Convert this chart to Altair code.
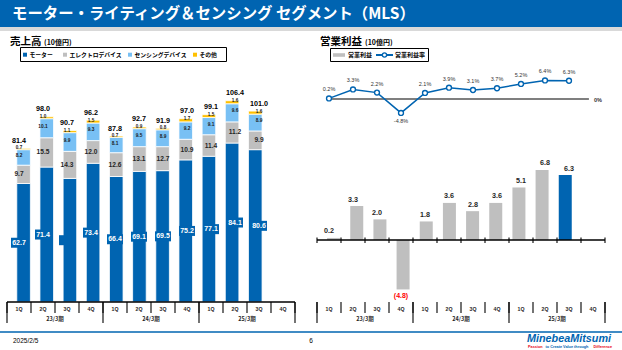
import altair as alt
import pandas as pd

# ---------------- data ----------------
periods = ["23/3期", "24/3期", "25/3期"]
quarters = ["1Q", "2Q", "3Q", "4Q"] * 3
seg_names = ["モーター", "エレクトロデバイス", "センシングデバイス", "その他"]
motor = [62.7, 71.4, 65.4, 73.4, 66.4, 69.1, 69.5, 75.2, 77.1, 84.1, 80.6]
motor_labels = ["62.7", "71.4", "", "73.4", "66.4", "69.1", "69.5", "75.2", "77.1", "84.1", "80.6"]
electro = [9.7, 15.5, 14.3, 12.0, 12.6, 13.1, 12.7, 10.9, 11.4, 11.2, 9.9]
sensing = [8.2, 10.1, 9.9, 9.3, 8.1, 9.5, 8.9, 9.2, 9.1, 9.6, 8.9]
other = [0.7, 1.0, 1.1, 1.5, 0.7, 0.9, 0.8, 1.7, 1.5, 1.6, 1.6]
totals = [81.4, 98.0, 90.7, 96.2, 87.8, 92.7, 91.9, 97.0, 99.1, 106.4, 101.0]
op_income = [0.2, 3.3, 2.0, -4.8, 1.8, 3.6, 2.8, 3.6, 5.1, 6.8, 6.3]
op_margin = [0.2, 3.3, 2.2, -4.8, 2.1, 3.9, 3.1, 3.7, 5.2, 6.4, 6.3]

title_text = "モーター・ライティング＆センシング セグメント（MLS）"
left_head = "売上高"
right_head = "営業利益"
unit_text = "(10億円)"
right_legend = ["営業利益", "営業利益率"]
footer_date = "2025/2/5"
footer_page = "6"

# ---------------- styles ----------------
BLUE = "#0064B1"
GRAY = "#BFBFBF"
LBLUE = "#78C0F4"
YELLOW = "#FFC000"
seg_colors = [BLUE, GRAY, LBLUE, YELLOW]
JP = "Noto Sans CJK JP"
NUM = "Liberation Sans"

one = pd.DataFrame({"d": [0]})
n = len(totals)
ncat = len(quarters)


def LX():
    return alt.Scale(domain=[-0.5, ncat - 0.5], range=[7, 295], nice=False, zero=False)


def RX():
    return alt.Scale(domain=[-0.5, ncat - 0.5], range=[317, 605], nice=False, zero=False)


def LY():
    return alt.Scale(domain=[0, 100], range=[302, 113], nice=False, zero=False)


def RYL():
    return alt.Scale(domain=[0, 10], range=[99, 70], nice=False, zero=False)


def RYB():
    return alt.Scale(domain=[0, 10], range=[240, 137], nice=False, zero=False)


def txt(s, x, y, size, color="black", weight="normal", font=JP, align="left", style="normal"):
    return alt.Chart(one).mark_text(
        text=s, align=align, baseline="middle", fontSize=size, font=font,
        fontWeight=weight, color=color, fontStyle=style
    ).encode(x=alt.value(x), y=alt.value(y))


def box(x, x2, y, y2, fill, stroke=None, sw=1.0):
    kw = dict(fill=fill)
    if stroke:
        kw.update(stroke=stroke, strokeWidth=sw)
    else:
        kw.update(strokeWidth=0)
    return alt.Chart(one).mark_rect(**kw).encode(
        x=alt.value(x), x2=alt.value(x2), y=alt.value(y), y2=alt.value(y2))


layers = []

# ---------------- banner ----------------
layers.append(box(0, 622, 0, 27, BLUE))
layers.append(box(0, 622, 27, 31, "#D9D9D9"))
layers.append(txt(title_text, 12, 14, 15.4, color="white", weight="bold"))

# ---------------- headings ----------------
layers.append(txt(left_head, 10, 42, 10.5, weight="bold"))
layers.append(txt(unit_text, 44, 43, 7, weight="bold"))
layers.append(txt(right_head, 320, 42, 10.5, weight="bold"))
layers.append(txt(unit_text, 365, 43, 7, weight="bold"))

# ---------------- left legend ----------------
layers.append(box(20.5, 226.5, 47.5, 61.5, "white", "black", 1))
leg_sym_x = [25, 65, 130, 195]
for name, col, sx in zip(seg_names, seg_colors, leg_sym_x):
    layers.append(box(sx - 2, sx + 2, 52.7, 56.7, col))
    layers.append(txt(name, sx + 4.5, 54.8, 5.8, weight="bold"))

# ---------------- right legend ----------------
layers.append(box(330.5, 428.5, 48.5, 61.5, "white", "black", 1))
layers.append(box(333, 345, 53.2, 56.8, GRAY))
layers.append(txt(right_legend[0], 348, 55, 6, weight="bold"))
layers.append(alt.Chart(one).mark_rule(color=BLUE, strokeWidth=2).encode(
    x=alt.value(376), x2=alt.value(393), y=alt.value(55)))
layers.append(alt.Chart(one).mark_point(filled=True, fill="white", stroke=BLUE, strokeWidth=1.3,
                                        size=18, opacity=1).encode(x=alt.value(384.5), y=alt.value(55)))
layers.append(txt(right_legend[1], 395, 55, 6, weight="bold"))

# ---------------- left stacked bars ----------------
rows = []
for i in range(n):
    b = 0.0
    for seg, vals in zip(seg_names, [motor, electro, sensing, other]):
        v = vals[i]
        rows.append(dict(i=i, seg=seg, start=b, end=b + v, mid=b + v / 2, lab=f"{v:.1f}"))
        b += v
stack = pd.DataFrame(rows)
tops = pd.DataFrame({"i": list(range(n)), "top": [stack[stack.i == i].end.max() for i in range(n)],
                     "lab": [f"{t:.1f}" for t in totals]})

layers.append(alt.Chart(stack).mark_bar(width=13.6, stroke="white", strokeWidth=0.8).encode(
    x=alt.X("i:Q", scale=LX(), axis=None),
    y=alt.Y("start:Q", scale=LY(), axis=None),
    y2="end:Q",
    color=alt.Color("seg:N", scale=alt.Scale(domain=seg_names, range=seg_colors), legend=None),
))

mdf = stack[stack.seg == seg_names[0]].copy()
mdf["lab"] = motor_labels
layers.append(alt.Chart(mdf).mark_point(
    shape="M-1,-0.625L1,-0.625L1,0.625L-1,0.625Z", filled=True, size=256, color=BLUE, opacity=1
).encode(x=alt.X("i:Q", scale=LX(), axis=None), y=alt.Y("mid:Q", scale=LY(), axis=None)))
layers.append(alt.Chart(mdf).mark_text(color="white", fontWeight="bold", fontSize=7, font=NUM,
                                       baseline="middle").encode(
    x=alt.X("i:Q", scale=LX(), axis=None), y=alt.Y("mid:Q", scale=LY(), axis=None), text="lab:N"))

seg_text_style = {
    seg_names[1]: dict(fontSize=6.6, color="#262626", dy=0),
    seg_names[2]: dict(fontSize=4.8, color="#1a1a1a", dy=-1.5),
    seg_names[3]: dict(fontSize=4.6, color="#1a1a1a", dy=-1),
}
for seg, st in seg_text_style.items():
    layers.append(alt.Chart(stack[stack.seg == seg]).mark_text(
        fontWeight="bold", font=NUM, baseline="middle", **st).encode(
        x=alt.X("i:Q", scale=LX(), axis=None), y=alt.Y("mid:Q", scale=LY(), axis=None), text="lab:N"))

layers.append(alt.Chart(tops).mark_text(fontWeight="bold", font=NUM, fontSize=7.2, color="black",
                                        baseline="middle", dy=-7.5).encode(
    x=alt.X("i:Q", scale=LX(), axis=None), y=alt.Y("top:Q", scale=LY(), axis=None), text="lab:N"))

# left baseline
layers.append(alt.Chart(one).mark_rule(color="black", strokeWidth=1.3).encode(
    x=alt.XDatum(-0.5, scale=LX(), axis=None), x2=alt.X2Datum(ncat - 0.5),
    y=alt.YDatum(0, scale=LY(), axis=None)))

# ---------------- category axes (both panels) ----------------
bounds = pd.DataFrame({"t": [k - 0.5 for k in range(ncat + 1)]})
gbounds = pd.DataFrame({"t": [k * 4 - 0.5 for k in range(len(periods) + 1)]})
cats = pd.DataFrame({"i": list(range(ncat)), "q": quarters})
groups = pd.DataFrame({"g": [k * 4 + 1.5 for k in range(len(periods))], "p": periods})

for XS in (LX, RX):
    layers.append(alt.Chart(bounds).mark_rule(color="black", strokeWidth=1.1).encode(
        x=alt.X("t:Q", scale=XS(), axis=None), y=alt.value(302), y2=alt.value(313)))
    layers.append(alt.Chart(gbounds).mark_rule(color="black", strokeWidth=1.1).encode(
        x=alt.X("t:Q", scale=XS(), axis=None), y=alt.value(302), y2=alt.value(323)))
    layers.append(alt.Chart(cats).mark_text(fontSize=5.2, fontWeight="bold", font=NUM, color="#262626",
                                            baseline="middle").encode(
        x=alt.X("i:Q", scale=XS(), axis=None), y=alt.value(308.5), text="q:N"))
    layers.append(alt.Chart(groups).mark_text(fontSize=5.5, fontWeight="bold", font=JP, color="#262626",
                                              baseline="middle").encode(
        x=alt.X("g:Q", scale=XS(), axis=None), y=alt.value(318.5), text="p:N"))

# ---------------- right: operating margin line ----------------
ldf = pd.DataFrame({"i": list(range(n)), "m": op_margin, "lab": [f"{v:.1f}%" for v in op_margin]})
layers.append(alt.Chart(one).mark_rule(color="black", strokeWidth=1.2).encode(
    x=alt.XDatum(0, scale=RX(), axis=None), x2=alt.X2Datum(10.83),
    y=alt.YDatum(0, scale=RYL(), axis=None)))
layers.append(txt("0%", 594, 99.5, 5.5, color="#333333", font=NUM, weight="bold"))
layers.append(alt.Chart(ldf).mark_line(color=BLUE, strokeWidth=1.5).encode(
    x=alt.X("i:Q", scale=RX(), axis=None), y=alt.Y("m:Q", scale=RYL(), axis=None)))
layers.append(alt.Chart(ldf).mark_point(filled=True, fill="white", stroke=BLUE, strokeWidth=1.4,
                                        size=24, opacity=1).encode(
    x=alt.X("i:Q", scale=RX(), axis=None), y=alt.Y("m:Q", scale=RYL(), axis=None)))
layers.append(alt.Chart(ldf).transform_filter("datum.m >= 0").mark_text(
    fontSize=5.5, font=NUM, color="#333333", baseline="middle", dy=-9).encode(
    x=alt.X("i:Q", scale=RX(), axis=None), y=alt.Y("m:Q", scale=RYL(), axis=None), text="lab:N"))
layers.append(alt.Chart(ldf).transform_filter("datum.m < 0").mark_text(
    fontSize=5.5, font=NUM, color="#333333", baseline="middle", dy=8.5).encode(
    x=alt.X("i:Q", scale=RX(), axis=None), y=alt.Y("m:Q", scale=RYL(), axis=None), text="lab:N"))

# ---------------- right: operating income bars ----------------
bdf = pd.DataFrame({
    "i": list(range(n)), "v": op_income,
    "hl": ["past"] * (n - 1) + ["current"],
    "lab": [f"{v:.1f}" if v >= 0 else f"({abs(v):.1f})" for v in op_income],
})
layers.append(alt.Chart(bdf).mark_bar(width=13).encode(
    x=alt.X("i:Q", scale=RX(), axis=None),
    y=alt.Y("v:Q", scale=RYB(), axis=None), y2=alt.Y2Datum(0),
    color=alt.Color("hl:N", scale=alt.Scale(domain=["past", "current"], range=[GRAY, BLUE]), legend=None),
))
layers.append(alt.Chart(bdf).transform_filter("datum.v >= 0").mark_text(
    fontSize=7.2, fontWeight="bold", font=NUM, color="#262626", baseline="middle", dy=-6.5).encode(
    x=alt.X("i:Q", scale=RX(), axis=None), y=alt.Y("v:Q", scale=RYB(), axis=None), text="lab:N"))
layers.append(alt.Chart(bdf).transform_filter("datum.v < 0").mark_text(
    fontSize=7, fontWeight="bold", font=NUM, color="#FF0000", baseline="middle", dy=6.5).encode(
    x=alt.X("i:Q", scale=RX(), axis=None), y=alt.Y("v:Q", scale=RYB(), axis=None), text="lab:N"))
# zero axis with crossing ticks
layers.append(alt.Chart(one).mark_rule(color="black", strokeWidth=1.3).encode(
    x=alt.XDatum(-0.5, scale=RX(), axis=None), x2=alt.X2Datum(ncat - 0.5),
    y=alt.YDatum(0, scale=RYB(), axis=None)))
layers.append(alt.Chart(bounds).mark_rule(color="black", strokeWidth=1.1).encode(
    x=alt.X("t:Q", scale=RX(), axis=None), y=alt.value(237.5), y2=alt.value(243)))

# ---------------- footer ----------------
layers.append(alt.Chart(one).mark_rule(color=BLUE, strokeWidth=1.5).encode(
    x=alt.value(0), x2=alt.value(622), y=alt.value(332)))
layers.append(txt(footer_date, 13, 341, 6.5, font=NUM))
layers.append(txt(footer_page, 311, 341, 6.5, font=NUM, align="center"))
layers.append(txt("MinebeaMitsumi", 527, 338.5, 10.8, color=BLUE, weight="bold", font=NUM, style="italic"))
layers.append(txt("Passion", 528, 346.5, 3.8, color="#E60012", weight="bold", font=NUM))
layers.append(txt("to Create Value through", 567, 346.5, 3.8, color=BLUE, weight="bold", font=NUM, align="center"))
layers.append(txt("Difference", 612, 346.5, 3.8, color="#E60012", weight="bold", font=NUM, align="right"))

chart = alt.layer(*layers).resolve_scale(
    x="independent", y="independent", color="independent"
).properties(
    width=622, height=350, padding=0, autosize=alt.AutoSizeParams(type="none"), background="white"
).configure_view(stroke=None)

chart.save("out.html", embed_options={"renderer": "svg", "actions": False})
